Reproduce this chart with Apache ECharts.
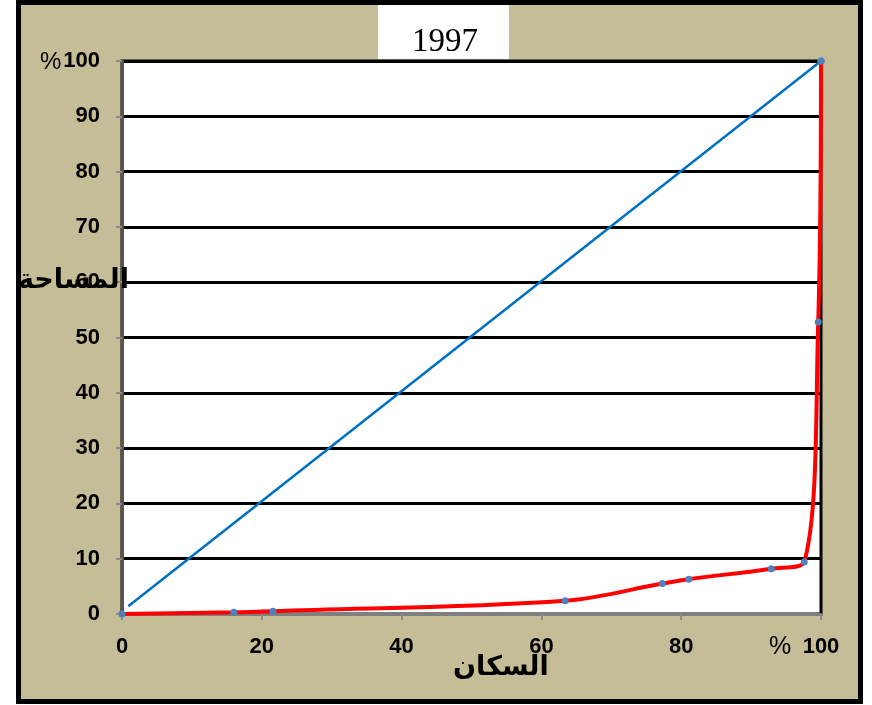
<!DOCTYPE html>
<html><head><meta charset="utf-8">
<script src="https://cdn.jsdelivr.net/npm/echarts@6/dist/echarts.min.js"></script>
<style>html,body{margin:0;padding:0;background:#fff}#c{width:872px;height:705px}</style>
</head><body><div id="c"></div>
<script>
const equalityX = [0.9, 100];
const equalityY = [1.4, 100];
const populationPct = [0, 16.0, 21.6, 63.4, 77.3, 81.1, 92.9, 97.6, 99.6, 100];
const areaPct = [0, 0.3, 0.5, 2.4, 5.5, 6.3, 8.2, 9.4, 52.8, 100];
const xTicks = [0, 20, 40, 60, 80, 100];
const yTicks = [0, 10, 20, 30, 40, 50, 60, 70, 80, 90, 100];
const titleText = '1997';
const xName = 'السكان';
const yName = 'المساحة';

const chart = echarts.init(document.getElementById('c'));
const eqData = equalityX.map((x, i) => ({ value: [x, equalityY[i]], symbolSize: i === 0 ? 0 : 7 }));
const lorenzData = populationPct.map((x, i) => [x, areaPct[i]]);
const font = 'Arial, "Liberation Sans", sans-serif';

chart.setOption({
  backgroundColor: '#ffffff',
  animation: false,
  graphic: [
    { type: 'rect', z: -10, shape: { x: 18.5, y: 2.5, width: 842, height: 699 },
      style: { fill: '#C4BD97', stroke: '#000', lineWidth: 5 } },
    { type: 'rect', z: 5, shape: { x: 378, y: 5, width: 131, height: 54 }, style: { fill: '#fff' } },
    { type: 'text', z: 6, left: 412, top: 26, style: { text: titleText, font: '33px "Liberation Serif", "Times New Roman", serif', fill: '#000' } },
    { type: 'text', z: 6, left: 40, top: 50, style: { text: '%', font: '24px ' + font, fill: '#000' } },
    { type: 'text', z: 6, left: 769, top: 635, style: { text: '%', font: '25px ' + font, fill: '#000' } },
    { type: 'text', z: 6, left: 18, top: 267, style: { text: yName, font: 'bold 27px "DejaVu Sans", ' + font, fill: '#000' } },
    { type: 'text', z: 6, left: 453, top: 654, style: { text: xName, font: 'bold 27px "DejaVu Sans", ' + font, fill: '#000' } }
  ],
  grid: { left: 122, right: 51, top: 61, bottom: 91, show: true, backgroundColor: '#fff', borderColor: '#000', borderWidth: 3 },
  xAxis: {
    type: 'value', min: 0, max: 100, interval: 20,
    axisLine: { show: true, lineStyle: { color: '#7f7f7f', width: 3 } },
    axisTick: { show: true, length: 6, lineStyle: { color: '#8c8c8c', width: 2 } },
    splitLine: { show: false },
    axisLabel: { color: '#000', fontWeight: 'bold', fontSize: 22, fontFamily: font, margin: 22,
      formatter: v => xTicks.includes(v) ? String(v) : '' }
  },
  yAxis: {
    type: 'value', min: 0, max: 100, interval: 10,
    axisLine: { show: true, lineStyle: { color: '#555', width: 3 } },
    axisTick: { show: true, length: 6, lineStyle: { color: '#8c8c8c', width: 2 } },
    splitLine: { show: true, lineStyle: { color: '#000', width: 3 } },
    axisLabel: { color: '#000', fontWeight: 'bold', fontSize: 22, fontFamily: font, margin: 22,
      formatter: v => yTicks.includes(v) ? String(v) : '' }
  },
  series: [
    { type: 'line', data: eqData, symbol: 'circle', itemStyle: { color: '#4F81BD' },
      lineStyle: { color: '#0070C0', width: 2.5 }, z: 3 },
    { type: 'line', data: lorenzData, smooth: 0.35, symbol: 'circle', symbolSize: 7,
      itemStyle: { color: '#4F81BD' }, lineStyle: { color: '#FF0000', width: 4 }, z: 4 }
  ]
});
</script></body></html>
